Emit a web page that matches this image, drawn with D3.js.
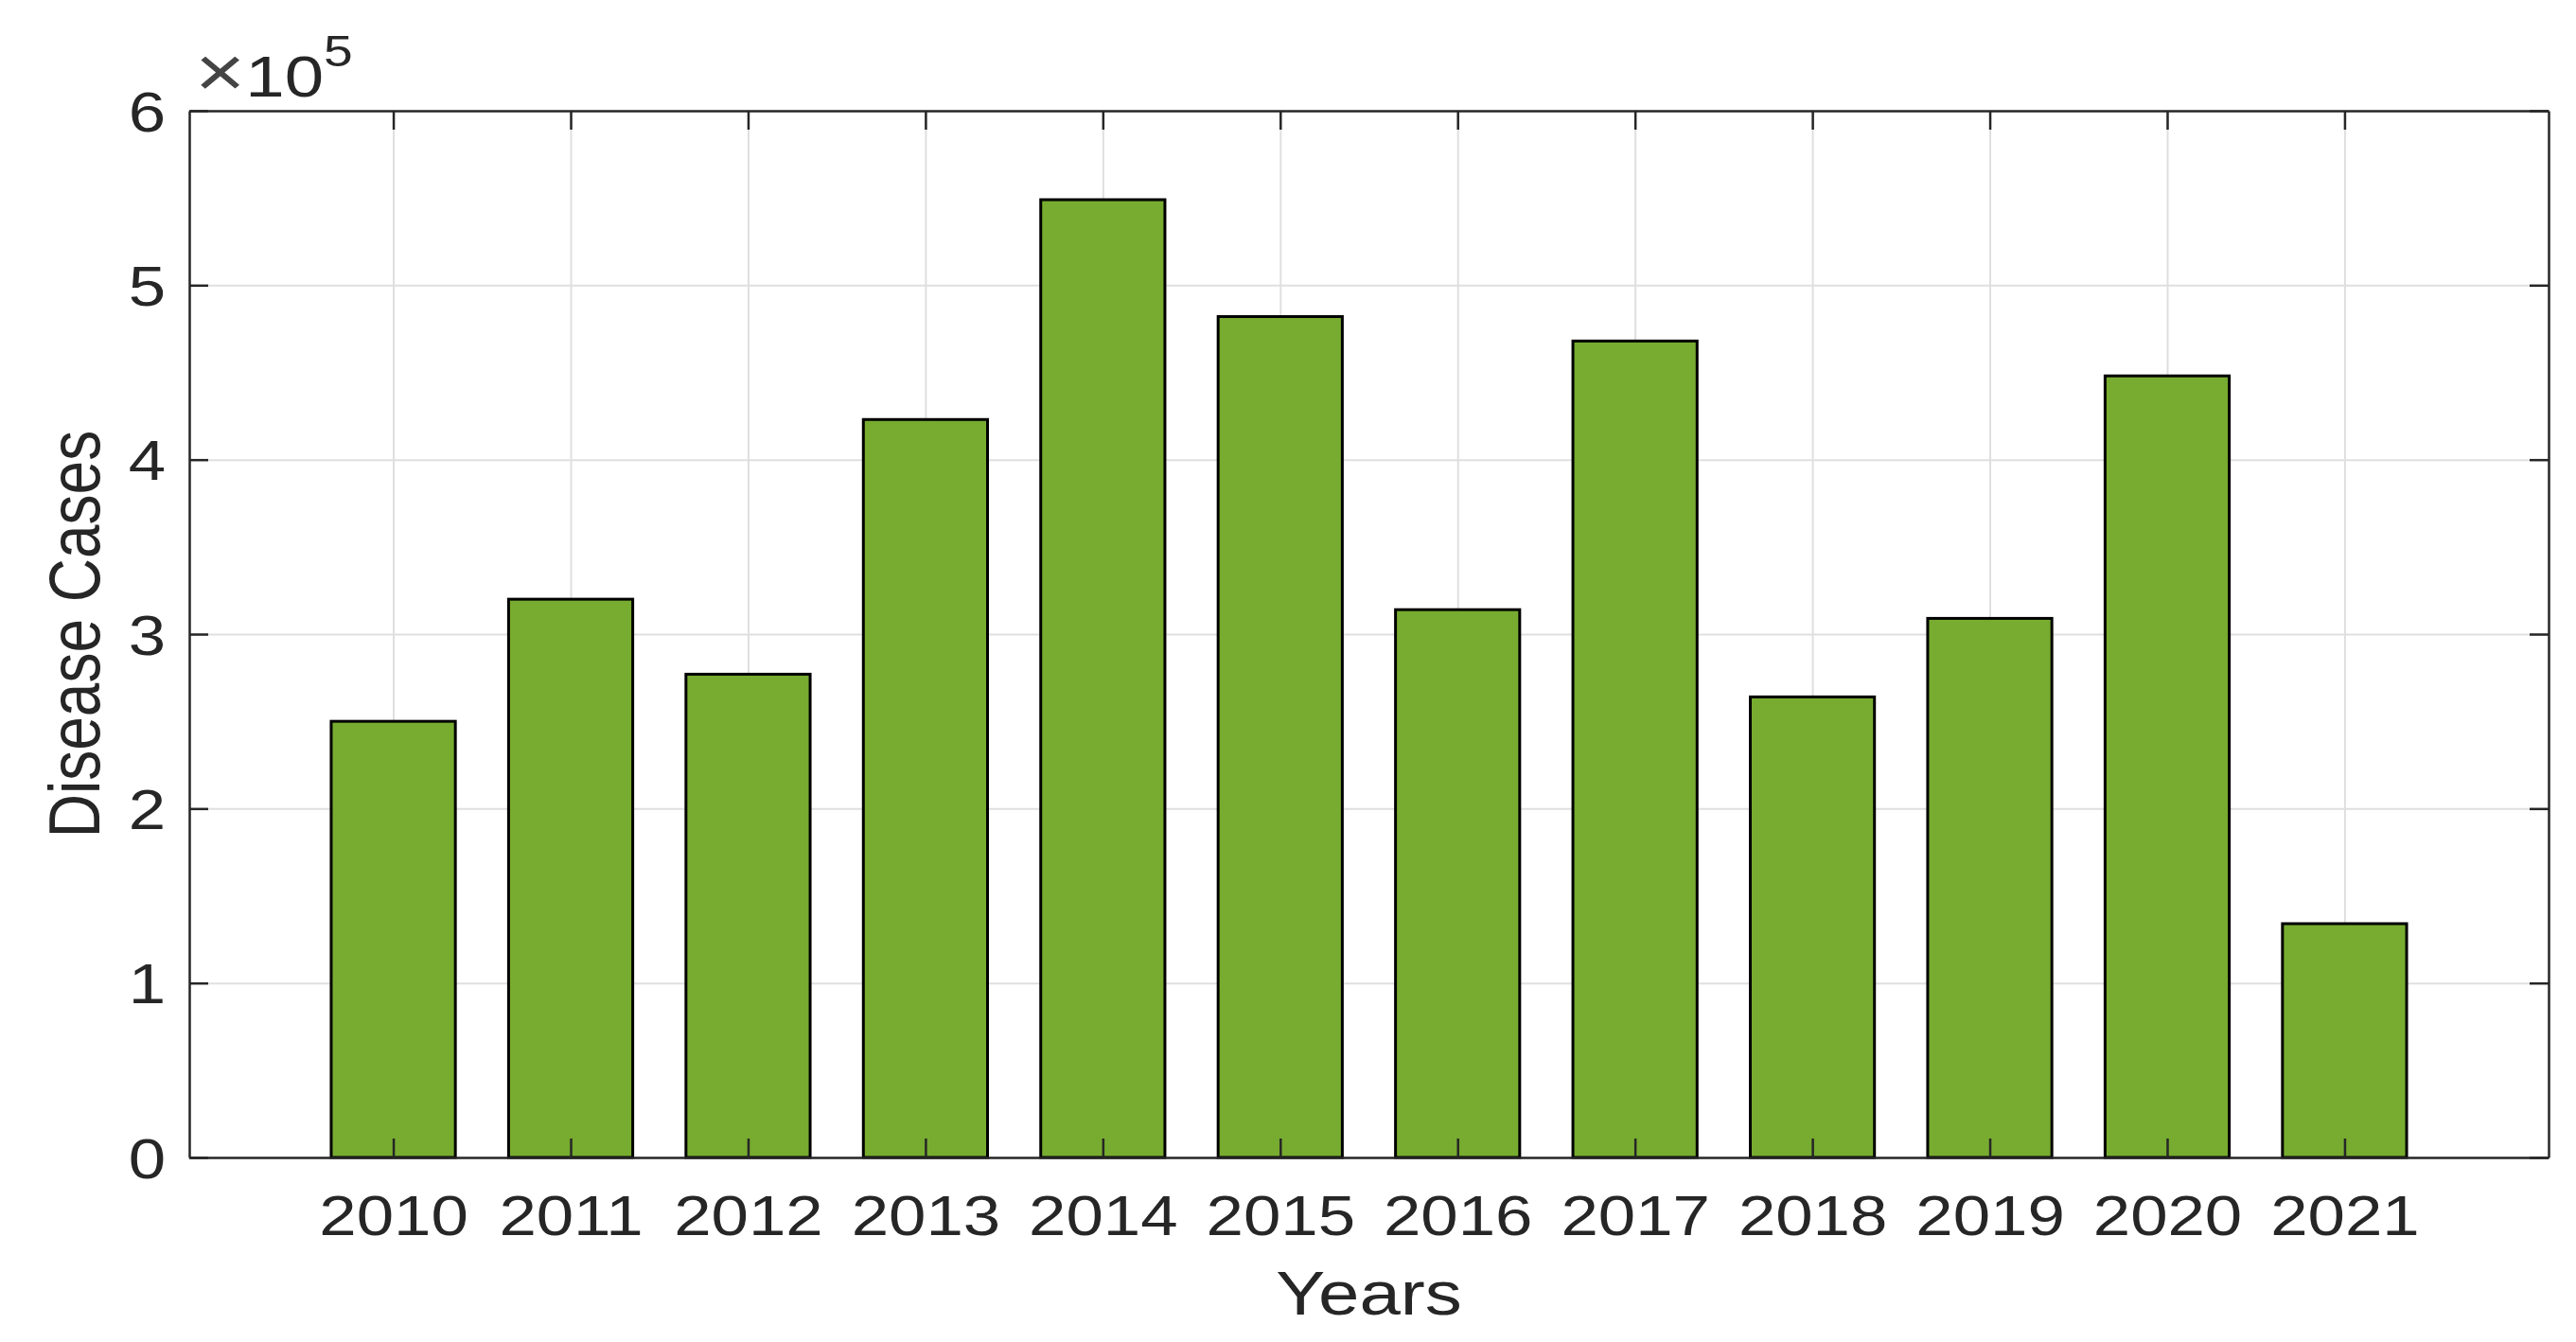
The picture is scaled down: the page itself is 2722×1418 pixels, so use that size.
<!DOCTYPE html>
<meta charset="utf-8">
<head>
    <style>
        body {margin: 0; background: #fff;}
        svg {display: block;}
        .grid line {stroke: #dfdfdf; stroke-width: 2;}
        .grid .domain {display: none;}
        .frame .domain, .frame line {stroke: #262626; stroke-width: 2.5;}
        text {fill: #262626; font-family: "Liberation Sans", Arial, sans-serif;}
        .bar {fill: #77ac30; stroke: #000; stroke-width: 3;}
    </style>
    <script src="https://d3js.org/d3.v7.min.js"></script>
</head>
<body>
<script>
    // data (cases)
    var years = [2010, 2011, 2012, 2013, 2014, 2015, 2016, 2017, 2018, 2019, 2020, 2021];
    var cases = [250000, 320000, 277000, 423000, 549000, 482000, 314000, 468000, 264000, 309000, 448000, 134000];
    var yTicks = [0, 100000, 200000, 300000, 400000, 500000, 600000];
    var xLabel = "Years",
        yLabel = "Disease Cases";

    var W = 2722, H = 1418;
    var margin = {top: 117, right: 29, bottom: 195, left: 200},
        width = W - margin.left - margin.right,
        height = H - margin.top - margin.bottom;
    var stretch = 1.2;   // the source figure is a bit wider than tall

    var x = d3.scaleLinear()
        .domain([2008.85, 2022.15])
        .range([0, width]);

    var y = d3.scaleLinear()
        .domain([0, 600000])
        .range([height, 0]);

    var svg = d3.select("body").append("svg")
        .attr("width", W)
        .attr("height", H)
      .append("g")
        .attr("transform", "translate(" + margin.left + "," + margin.top + ")");

    // grid behind the bars
    svg.append("g")
        .attr("class", "grid")
        .attr("transform", "translate(0," + height + ")")
        .call(d3.axisBottom(x).tickValues(years).tickSize(-height).tickFormat(""));
    svg.append("g")
        .attr("class", "grid")
        .call(d3.axisLeft(y).tickValues(yTicks.slice(1, -1)).tickSize(-width).tickFormat(""));

    var barW = x(2010.35) - x(2009.65);

    svg.selectAll("rect.bar")
        .data(cases)
      .enter().append("rect")
        .attr("class", "bar")
        .attr("x", function(d, i) {return x(years[i]) - barW / 2})
        .attr("width", barW)
        .attr("y", function(d) {return y(d)})
        .attr("height", function(d) {return height - y(d)});

    // box with inward ticks on all four sides
    var bottom = svg.append("g")
        .attr("class", "frame")
        .attr("transform", "translate(0," + height + ")")
        .call(d3.axisBottom(x).tickValues(years).tickSizeInner(-20).tickSizeOuter(0).tickFormat(d3.format("d")));
    bottom.selectAll("text")
        .attr("y", 82)
        .attr("dy", null)
        .attr("font-size", 59)
        .attr("transform", "scale(" + stretch + ",1)");

    svg.append("g")
        .attr("class", "frame")
        .call(d3.axisTop(x).tickValues(years).tickSizeInner(-20).tickSizeOuter(0).tickFormat(""));

    var left = svg.append("g")
        .attr("class", "frame")
        .call(d3.axisLeft(y).tickValues(yTicks).tickSizeInner(-20).tickSizeOuter(0).tickFormat(function(d) {return d / 1e5}));
    left.selectAll("text")
        .attr("x", -25 / stretch)
        .attr("dy", "0.36em")
        .attr("font-size", 59)
        .attr("transform", "scale(" + stretch + ",1)");

    svg.append("g")
        .attr("class", "frame")
        .attr("transform", "translate(" + width + ",0)")
        .call(d3.axisRight(y).tickValues(yTicks).tickSizeInner(-20).tickSizeOuter(0).tickFormat(""));

    svg.selectAll(".frame").attr("font-family", null).attr("font-size", null);

    // exponent label
    var expo = svg.append("text")
        .attr("transform", "translate(6,-15) scale(" + stretch + ",1)")
        .attr("font-size", 62);
    expo.append("tspan").attr("font-size", 76).attr("font-weight", 300).attr("fill", "#444").text("×");
    expo.append("tspan").text("10");
    expo.append("tspan").attr("font-size", 46).attr("dy", -32).text("5");

    // axis titles
    svg.append("text")
        .attr("transform", "translate(" + (width / 2) + "," + (height + 166) + ") scale(" + stretch + ",1)")
        .attr("text-anchor", "middle")
        .attr("font-size", 65)
        .text(xLabel);

    svg.append("text")
        .attr("transform", "translate(" + (105 - margin.left) + "," + (height / 2) + ") scale(" + stretch + ",1) rotate(-90)")
        .attr("text-anchor", "middle")
        .attr("font-size", 64)
        .text(yLabel);
</script>
</body>
